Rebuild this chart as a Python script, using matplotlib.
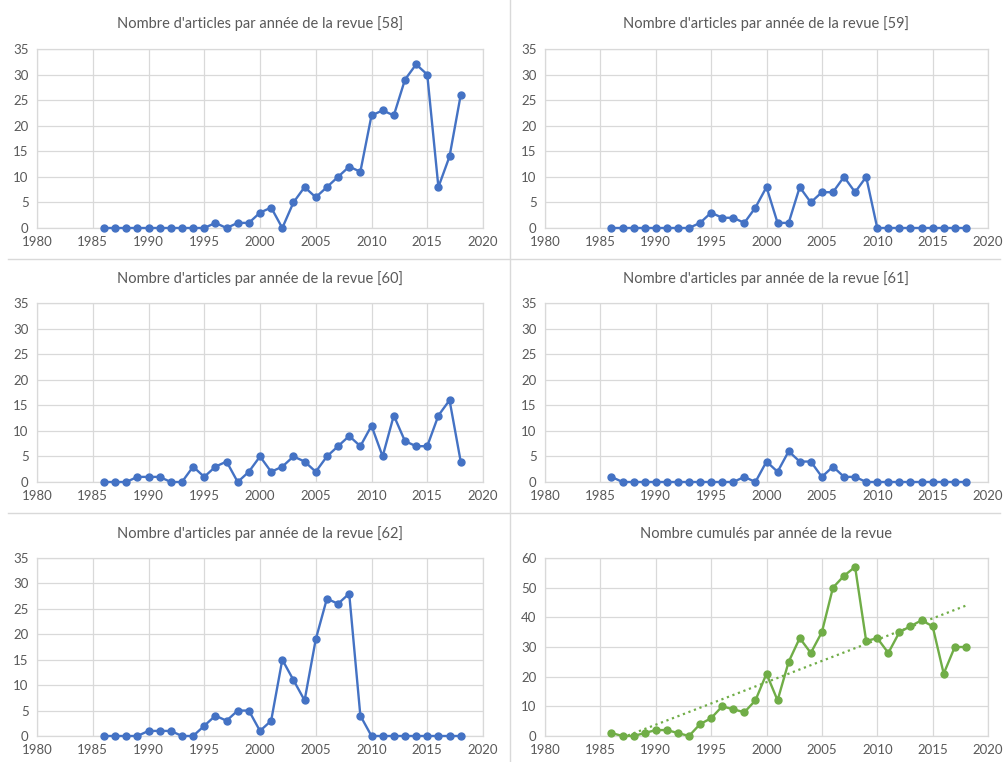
import matplotlib
matplotlib.use("Agg")
import matplotlib.pyplot as plt
from matplotlib.lines import Line2D
import numpy as np

years = list(range(1986, 2019))

revue_58 = [0, 0, 0, 0, 0, 0, 0, 0, 0, 0, 1, 0, 1, 1, 3, 4, 0, 5, 8, 6, 8,
            10, 12, 11, 22, 23, 22, 29, 32, 30, 8, 14, 26]
revue_59 = [0, 0, 0, 0, 0, 0, 0, 0, 1, 3, 2, 2, 1, 4, 8, 1, 1, 8, 5, 7, 7,
            10, 7, 10, 0, 0, 0, 0, 0, 0, 0, 0, 0]
revue_60 = [0, 0, 0, 1, 1, 1, 0, 0, 3, 1, 3, 4, 0, 2, 5, 2, 3, 5, 4, 2, 5,
            7, 9, 7, 11, 5, 13, 8, 7, 7, 13, 16, 4]
revue_61 = [1, 0, 0, 0, 0, 0, 0, 0, 0, 0, 0, 0, 1, 0, 4, 2, 6, 4, 4, 1, 3,
            1, 1, 0, 0, 0, 0, 0, 0, 0, 0, 0, 0]
revue_62 = [0, 0, 0, 0, 1, 1, 1, 0, 0, 2, 4, 3, 5, 5, 1, 3, 15, 11, 7, 19, 27,
            26, 28, 4, 0, 0, 0, 0, 0, 0, 0, 0, 0]
cumul = [1, 0, 0, 1, 2, 2, 1, 0, 4, 6, 10, 9, 8, 12, 21, 12, 25, 33, 28, 35, 50,
         54, 57, 32, 33, 28, 35, 37, 39, 37, 21, 30, 30]

titles = ["Nombre d'articles par année de la revue [58]",
          "Nombre d'articles par année de la revue [59]",
          "Nombre d'articles par année de la revue [60]",
          "Nombre d'articles par année de la revue [61]",
          "Nombre d'articles par année de la revue [62]",
          "Nombre cumulés par année de la revue"]
series = [revue_58, revue_59, revue_60, revue_61, revue_62, cumul]

BLUE = "#4472C4"
GREEN = "#70AD47"
GRID = "#D9D9D9"
TXT = "#595959"
FONT = "Lato"

W, H = 1004, 762
fig = plt.figure(figsize=(W / 100, H / 100), dpi=100)
fig.patch.set_facecolor("white")

# pixel boxes of the plot areas: (x0, x1, ytop, ybottom)
cols = [(37, 483), (545, 988)]
rows = [(49, 228), (303, 482), (558, 736)]
title_y = [24, 279, 534]

for i, (title, vals) in enumerate(zip(titles, series)):
    r, c = divmod(i, 2)
    x0, x1 = cols[c]
    yt, yb = rows[r]
    ax = fig.add_axes([x0 / W, 1 - yb / H, (x1 - x0) / W, (yb - yt) / H])
    is_cumul = i == 5
    color = GREEN if is_cumul else BLUE

    ax.plot(years, vals, color=color, lw=1.7, marker="o", ms=5,
            clip_on=False, zorder=3)
    if is_cumul:
        slope, icpt = np.polyfit(years, vals, 1)
        fit_x = np.array([years[0], years[-1]])
        ax.plot(fit_x, slope * fit_x + icpt, color=GREEN, lw=1.6, ls=":", zorder=2)
        ax.set_ylim(0, 60)
        ax.set_yticks(range(0, 61, 10))
    else:
        ax.set_ylim(0, 35)
        ax.set_yticks(range(0, 36, 5))
    ax.set_xlim(1980, 2020)
    ax.set_xticks(range(1980, 2021, 5))

    ax.grid(True, color=GRID, lw=0.9)
    ax.set_axisbelow(True)
    for sp in ax.spines.values():
        sp.set_color(GRID)
        sp.set_linewidth(0.9)
    ax.tick_params(length=0, labelsize=9.5, labelcolor=TXT, pad=6)
    for lab in ax.get_xticklabels() + ax.get_yticklabels():
        lab.set_fontfamily(FONT)

    fig.text((x0 + x1) / 2 / W, 1 - title_y[r] / H, title, ha="center",
             va="center", fontsize=10.5, color=TXT, family=FONT)

# light separators between the panels
fig.add_artist(Line2D([510 / W, 510 / W], [0, 1], color=GRID, lw=1))
for y in (259, 513):
    fig.add_artist(Line2D([8 / W, 1000 / W], [1 - y / H, 1 - y / H], color=GRID, lw=1))

fig.savefig("out.png", dpi=100)
